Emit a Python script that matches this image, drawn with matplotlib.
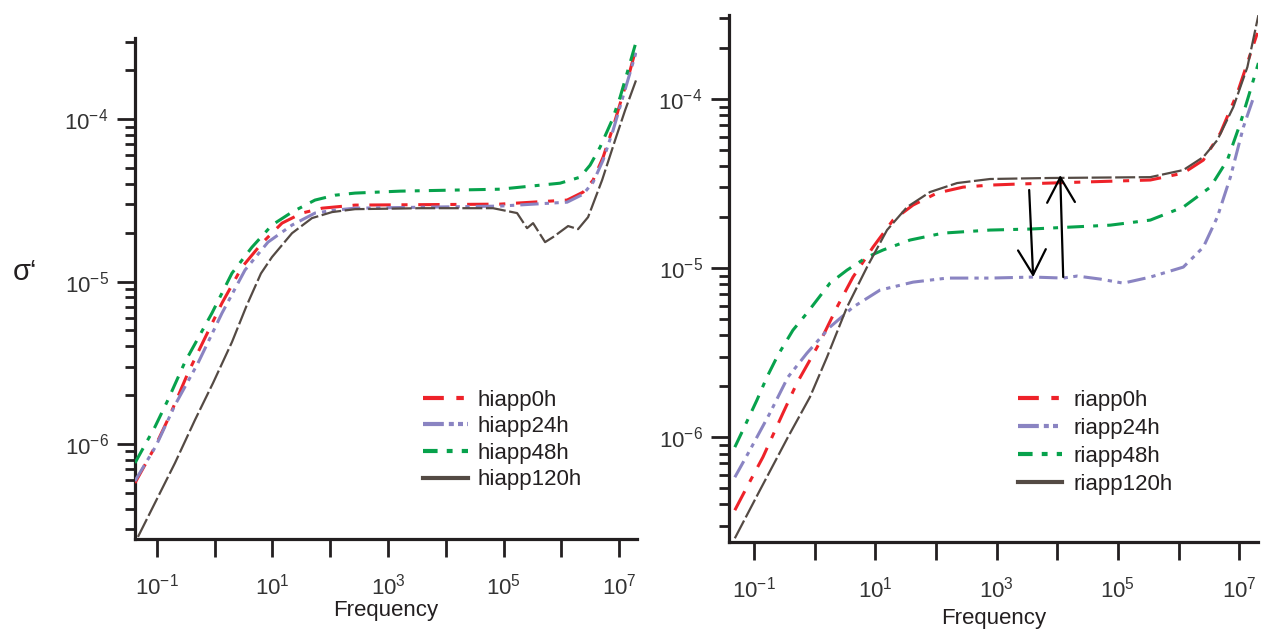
import numpy as np
import matplotlib
matplotlib.use('Agg')
import matplotlib.pyplot as plt
from matplotlib.lines import Line2D
from matplotlib.ticker import FixedLocator, LogLocator, NullFormatter

plt.rcParams['font.family'] = ['Liberation Sans', 'DejaVu Sans']
plt.rcParams['mathtext.fontset'] = 'custom'
plt.rcParams['mathtext.rm'] = 'Liberation Sans'
plt.rcParams['mathtext.it'] = 'Liberation Sans:italic'

# values, stored as log10(frequency), log10(sigma')
# ---- left panel (hiapp) ----
hi0_lf = [-1.381, -1.035, -0.775, -0.463, -0.203, 0.126, 0.472, 0.818, 1.165, 1.511,
          1.857, 2.429, 4.939, 6.100, 6.377, 6.550, 6.723, 6.896, 7.190, 7.294]
hi0_ls = [-6.240, -6.018, -5.822, -5.563, -5.372, -5.132, -4.911, -4.763, -4.640, -4.578,
          -4.548, -4.529, -4.523, -4.498, -4.449, -4.375, -4.234, -4.049, -3.700, -3.563]

hi24_lf = [-1.381, -1.017, -0.688, -0.290, 0.126, 0.524, 0.922, 1.338, 1.736, 2.082,
           2.429, 4.939, 6.100, 6.377, 6.550, 6.723, 6.896, 7.294]
hi24_ls = [-6.228, -6.012, -5.760, -5.502, -5.194, -4.929, -4.757, -4.652, -4.578, -4.560,
           -4.548, -4.535, -4.511, -4.462, -4.388, -4.252, -4.068, -3.588]

hi48_lf = [-1.381, -1.035, -0.810, -0.515, -0.048, 0.299, 0.645, 0.991, 1.338, 1.736,
           2.082, 2.429, 3.208, 4.939, 5.978, 6.325, 6.498, 6.671, 6.879, 7.017, 7.312]
hi48_ls = [-6.117, -5.895, -5.729, -5.495, -5.194, -4.948, -4.788, -4.652, -4.572, -4.498,
           -4.468, -4.455, -4.443, -4.431, -4.394, -4.357, -4.283, -4.172, -4.006, -3.865, -3.502]

hi120_lf = [-1.329, -0.688, -0.342, -0.030, 0.299, 0.550, 0.800, 0.991, 1.338, 1.684, 2.030,
            2.429, 3.554, 4.818, 5.234, 5.407, 5.511, 5.719, 5.857, 6.117, 6.290,
            6.463, 6.706, 6.931, 7.104, 7.312]
hi120_ls = [-6.572, -6.117, -5.852, -5.625, -5.372, -5.150, -4.950, -4.849, -4.702, -4.609, -4.572,
            -4.554, -4.548, -4.548, -4.578, -4.671, -4.640, -4.757, -4.726, -4.658, -4.677,
            -4.603, -4.375, -4.129, -3.945, -3.742]

# ---- right panel (riapp) ----
ri0_lf = [-1.314, -1.116, -0.851, -0.521, -0.290, -0.076, 0.089, 0.370, 0.634, 0.964,
          1.294, 1.624, 2.020, 2.449, 2.894, 3.340, 4.429, 5.535, 6.079, 6.409,
          6.690, 6.970, 7.300]
ri0_ls = [-6.432, -6.296, -6.118, -5.858, -5.680, -5.544, -5.438, -5.231, -5.053, -4.876,
          -4.716, -4.627, -4.556, -4.521, -4.509, -4.503, -4.491, -4.479, -4.438, -4.361,
          -4.201, -3.964, -3.609]

ri24_lf = [-1.314, -1.066, -0.736, -0.439, -0.125, 0.254, 0.634, 1.079, 1.624, 2.185,
           2.894, 3.604, 4.099, 4.330, 4.710, 5.089, 5.535, 6.079, 6.409, 6.640,
           6.855, 7.069, 7.251]
ri24_ls = [-6.237, -6.077, -5.858, -5.645, -5.503, -5.349, -5.231, -5.130, -5.083, -5.059,
           -5.059, -5.053, -5.059, -5.047, -5.065, -5.089, -5.053, -4.994, -4.876, -4.698,
           -4.462, -4.166, -3.976]

ri48_lf = [-1.314, -1.182, -0.950, -0.785, -0.604, -0.356, -0.125, 0.254, 0.535, 0.865,
           1.129, 1.574, 2.119, 2.894, 3.554, 4.875, 5.535, 6.079, 6.525, 6.805,
           7.020, 7.185, 7.317]
ri48_ls = [-6.059, -5.959, -5.781, -5.645, -5.515, -5.367, -5.266, -5.089, -5.012, -4.935,
           -4.893, -4.834, -4.793, -4.775, -4.769, -4.746, -4.716, -4.639, -4.521, -4.361,
           -4.142, -3.947, -3.787]

ri120_lf = [-1.314, -0.901, -0.439, -0.076, 0.205, 0.535, 0.865, 1.195, 1.525, 1.904,
            2.350, 2.894, 3.884, 5.535, 6.079, 6.409, 6.640, 6.904, 7.135, 7.317]
ri120_ls = [-6.598, -6.314, -6.000, -5.763, -5.527, -5.231, -4.994, -4.775, -4.639, -4.550,
            -4.497, -4.473, -4.467, -4.462, -4.420, -4.343, -4.243, -4.047, -3.811, -3.503]

# arrows in right panel: (log f start, log s start, log f end, log s end)
arrow_down = (3.538, -4.538, 3.604, -5.053)
arrow_up = (4.099, -5.053, 4.050, -4.450)

hi_labels = ['hiapp0h', 'hiapp24h', 'hiapp48h', 'hiapp120h']
ri_labels = ['riapp0h', 'riapp24h', 'riapp48h', 'riapp120h']

colors = ['#ee2229', '#8a84c2', '#07a24c', '#544a44']
styles = [(0, (7, 3.5, 2, 3.5)), (0, (6, 2, 1.4, 1.8, 1.4, 2)),
          (0, (5.5, 3, 1.6, 3)), (0, (9, 1.6))]
lws = [2.2, 2.2, 2.2, 1.6]
legend_styles = [(0, (5, 3, 1.8, 3)), (0, (5, 1.2, 1.2, 1.0, 1.2, 1.0)),
                 (0, (3.5, 2.2, 1.4, 2.2)), '-']

dark = '#231f20'
fs = 16

fig = plt.figure(figsize=(12.61, 6.30), dpi=100)
axL = fig.add_axes([135 / 1261, 1 - 539 / 630, 502 / 1261, 501 / 630])
axR = fig.add_axes([729 / 1261, 1 - 542 / 630, 529 / 1261, 527 / 630])


def style_axis(ax, xlim, ylim):
    ax.set_xscale('log')
    ax.set_yscale('log')
    ax.set_xlim(10 ** xlim[0], 10 ** xlim[1])
    ax.set_ylim(10 ** ylim[0], 10 ** ylim[1])
    for s in ['top', 'right']:
        ax.spines[s].set_visible(False)
    for s in ['left', 'bottom']:
        ax.spines[s].set_linewidth(2.3)
        ax.spines[s].set_color(dark)
    xexp = list(range(-1, 8))
    ax.xaxis.set_major_locator(FixedLocator([10.0 ** e for e in xexp]))
    ax.set_xticklabels(['$10^{%d}$' % e if e % 2 else '' for e in xexp])
    ax.xaxis.set_minor_locator(FixedLocator([]))
    yexp = [-6, -5, -4]
    ax.yaxis.set_major_locator(FixedLocator([10.0 ** e for e in yexp]))
    ax.set_yticklabels(['$10^{%d}$' % e for e in yexp])
    ax.yaxis.set_minor_locator(LogLocator(base=10, subs=range(2, 10), numticks=20))
    ax.yaxis.set_minor_formatter(NullFormatter())
    ax.tick_params(axis='both', which='major', direction='out', length=13, width=2,
                   color=dark, labelsize=fs, labelcolor='#333333')
    ax.tick_params(axis='y', which='minor', direction='out', length=7, width=2, color=dark)
    ax.tick_params(axis='x', which='major', pad=12)
    ax.tick_params(axis='y', which='major', pad=6)


style_axis(axL, (-1.38, 7.31), (-6.585, -3.5))
style_axis(axR, (-1.41, 7.31), (-6.62, -3.503))

left_series = [(hi0_lf, hi0_ls), (hi24_lf, hi24_ls), (hi48_lf, hi48_ls), (hi120_lf, hi120_ls)]
right_series = [(ri0_lf, ri0_ls), (ri24_lf, ri24_ls), (ri48_lf, ri48_ls), (ri120_lf, ri120_ls)]

for ax, series in [(axL, left_series), (axR, right_series)]:
    for i, (lf, ls) in enumerate(series):
        ax.plot(10 ** np.array(lf), 10 ** np.array(ls), color=colors[i],
                linestyle=styles[i], lw=lws[i], zorder=3)

for a in [arrow_down, arrow_up]:
    axR.annotate('', xy=(10 ** a[2], 10 ** a[3]), xytext=(10 ** a[0], 10 ** a[1]),
                 arrowprops=dict(arrowstyle='->,head_length=0.9,head_width=0.5',
                                 lw=1.6, color='black', shrinkA=0, shrinkB=0,
                                 mutation_scale=20), zorder=4)

handles = [Line2D([], [], color=colors[i], linestyle=legend_styles[i], lw=3)
           for i in range(4)]
legL = axL.legend(handles, hi_labels, loc='upper left', bbox_to_anchor=(0.574, 0.298),
                  frameon=False, fontsize=fs, handlelength=2.0, handletextpad=0.45,
                  labelspacing=0.25, borderpad=0, borderaxespad=0)
legR = axR.legend(handles, ri_labels, loc='upper left', bbox_to_anchor=(0.546, 0.289),
                  frameon=False, fontsize=fs, handlelength=2.0, handletextpad=0.5,
                  labelspacing=0.32, borderpad=0, borderaxespad=0)
for leg in [legL, legR]:
    for t in leg.get_texts():
        t.set_color(dark)

axL.set_xlabel('Frequency', fontsize=fs, color=dark, labelpad=0)
axR.set_xlabel('Frequency', fontsize=fs, color=dark, labelpad=4)
fig.text(25 / 1261, 1 - 272 / 630, 'σ‘', fontsize=21, color=dark, ha='center', va='center')

fig.savefig('out.png', dpi=100)
